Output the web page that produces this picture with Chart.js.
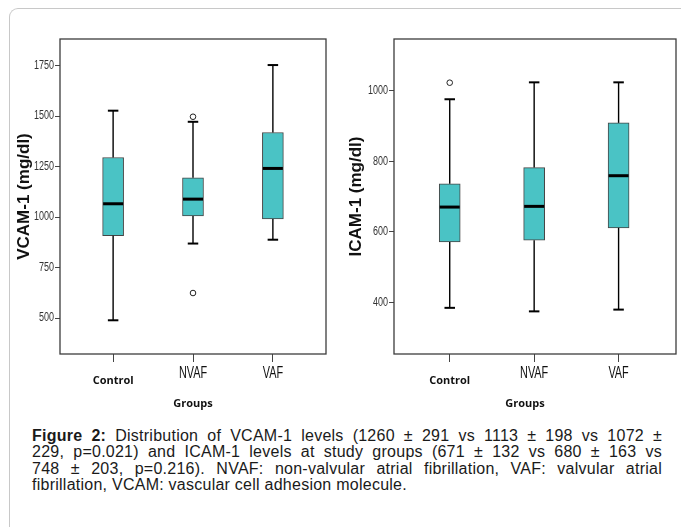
<!DOCTYPE html>
<html>
<head>
<meta charset="utf-8">
<script src="https://cdn.jsdelivr.net/npm/chart.js@4.4.1/dist/chart.umd.min.js"></script>
<style>
  html, body { margin: 0; padding: 0; background: #fff; }
  body { width: 681px; height: 527px; position: relative; overflow: hidden; }
  #frame { position: absolute; left: 9px; top: 8px; width: 800px; height: 700px;
           border-left: 1.5px solid #c8c8c8; border-top: 1.5px solid #c8c8c8; border-top-left-radius: 9px; }
  canvas { position: absolute; top: 0; }
  #vcam { left: 0; }
  #icam { left: 340px; }
  .cap { position: absolute; left: 32px; font: 16px 'Liberation Sans', Arial, sans-serif; letter-spacing: 0.25px;
         line-height: 17px; white-space: nowrap; color: #1a1a1a; }
</style>
</head>
<body>
<div id="frame"></div>
<canvas id="vcam" width="340" height="420"></canvas>
<canvas id="icam" width="341" height="420"></canvas>
<div class="cap justify" style="top:426.5px"><b>Figure 2:</b> Distribution of VCAM-1 levels (1260 ± 291 vs 1113 ± 198 vs 1072 ±</div>
<div class="cap justify" style="top:443px">229, p=0.021) and ICAM-1 levels at study groups (671 ± 132 vs 680 ± 163 vs</div>
<div class="cap justify" style="top:459.5px">748 ± 203, p=0.216). NVAF: non-valvular atrial fibrillation, VAF: valvular atrial</div>
<div class="cap" style="top:476px">fibrillation, VCAM: vascular cell adhesion molecule.</div>

<script>
// groups
const categories = ["Control", "NVAF", "VAF"];

// VCAM-1 box plot values (mg/dl)
const vcamMin = [489, 869, 888];
const vcamQ1 = [908, 1006, 991];
const vcamMedian = [1066, 1089, 1241];
const vcamQ3 = [1295, 1195, 1419];
const vcamMax = [1527, 1472, 1753];
const vcamOutliers = [{ x: 1, y: 1497 }, { x: 1, y: 624 }];
const vcamTicks = [500, 750, 1000, 1250, 1500, 1750];

// ICAM-1 box plot values (mg/dl)
const icamMin = [384, 374, 379];
const icamQ1 = [571, 576, 611];
const icamMedian = [670, 672, 759];
const icamQ3 = [736, 782, 909];
const icamMax = [976, 1024, 1024];
const icamOutliers = [{ x: 0, y: 1023 }];
const icamTicks = [400, 600, 800, 1000];

const sans = "'Liberation Sans', Arial, sans-serif";
const spssBold = { family: "'Open Sans', 'DejaVu Sans', sans-serif", weight: "bold", size: 11 };

// SPSS draws its axis numbers in a narrow face; squeeze the regular tick labels
const narrowTicks = {
  id: "narrowTicks",
  beforeDraw(chart, args, opts) {
    const ctx = chart.ctx;
    Object.keys(opts).forEach(id => {
      const sc = chart.scales[id];
      sc.getLabelItems(chart.chartArea).forEach(it => {
        if (it.font.weight === "bold") return;
        ctx.save();
        ctx.font = it.font.string;
        it.options.maxWidth = ctx.measureText(it.label).width * opts[id];
        ctx.restore();
      });
    });
  }
};

// whiskers, caps and medians drawn with the chart scales
const boxLines = {
  id: "boxLines",
  afterDatasetsDraw(chart, args, opts) {
    const { ctx, scales: { x, y } } = chart;
    const s = opts.stats;
    const bars = chart.getDatasetMeta(0).data;
    ctx.save();
    ctx.strokeStyle = "#000";
    const seg = (x1, y1, x2, y2, w) => {
      ctx.lineWidth = w;
      ctx.beginPath(); ctx.moveTo(x1, y1); ctx.lineTo(x2, y2); ctx.stroke();
    };
    categories.forEach((c, i) => {
      const cx = x.getPixelForValue(i);
      const half = bars[i].width / 2;
      const yMax = y.getPixelForValue(s.max[i]);
      const yMin = y.getPixelForValue(s.min[i]);
      seg(cx, y.getPixelForValue(s.q3[i]), cx, yMax, 1.4);
      seg(cx, y.getPixelForValue(s.q1[i]), cx, yMin, 1.4);
      seg(cx - half / 2, yMax, cx + half / 2, yMax, 2);
      seg(cx - half / 2, yMin, cx + half / 2, yMin, 2);
      const yMed = y.getPixelForValue(s.median[i]);
      seg(cx - half + 0.5, yMed, cx + half - 0.5, yMed, 3);
    });
    ctx.restore();
  }
};

// box round the plot area
const plotFrame = {
  id: "plotFrame",
  afterDraw(chart) {
    const { ctx, chartArea: a } = chart;
    ctx.save();
    ctx.strokeStyle = "#3c3c3c";
    ctx.lineWidth = 1.3;
    ctx.strokeRect(a.left, a.top, a.right - a.left, a.bottom - a.top);
    ctx.restore();
  }
};

function boxChart(id, stats, yTitle, yTicks, xTitle, layout) {
  return new Chart(document.getElementById(id), {
    type: "bar",
    data: {
      datasets: [
        {
          data: categories.map((c, i) => ({ x: i, y: [stats.q1[i], stats.q3[i]] })),
          backgroundColor: "#4ac3c5",
          borderColor: "#454545",
          borderWidth: 1,
          borderSkipped: false,
          barThickness: 21,
          grouped: false
        },
        {
          type: "scatter",
          data: stats.outliers,
          pointStyle: "circle",
          radius: 2.8,
          borderWidth: 1,
          borderColor: "#222",
          backgroundColor: "rgba(0,0,0,0)"
        }
      ]
    },
    options: {
      responsive: false,
      animation: false,
      devicePixelRatio: 1,
      layout: { padding: layout.padding },
      plugins: {
        legend: { display: false },
        tooltip: { enabled: false },
        boxLines: { stats: stats },
        narrowTicks: { x: 0.68, y: 0.75 }
      },
      scales: {
        x: {
          type: "linear",
          min: layout.xMin,
          max: layout.xMax,
          offset: false,
          afterBuildTicks: sc => { sc.ticks = categories.map((c, i) => ({ value: i })); },
          afterFit: sc => { sc.height = 56; },
          grid: { drawOnChartArea: false, tickLength: 8, tickColor: "#444", offset: false },
          border: { display: false },
          ticks: {
            padding: 3,
            color: "#111",
            autoSkip: false,
            maxRotation: 0,
            callback: v => categories[v],
            font: ctx => ctx.index === 0
              ? Object.assign({}, spssBold, { lineHeight: 2.9 })
              : { family: sans, size: 16, lineHeight: 1.05 }
          },
          title: { display: true, text: xTitle, color: "#111", padding: 0, font: spssBold }
        },
        y: {
          min: layout.yMin,
          max: layout.yMax,
          afterBuildTicks: sc => { sc.ticks = yTicks.map(v => ({ value: v })); },
          afterFit: sc => { sc.width = layout.yWidth; },
          grid: { drawOnChartArea: false, tickLength: 5, tickColor: "#444" },
          border: { display: false },
          ticks: { padding: 1, color: "#333", callback: v => String(v), font: { family: sans, size: 12 } },
          title: {
            display: true,
            text: yTitle,
            color: "#111",
            padding: 0,
            font: { family: sans, weight: "bold", size: 17 }
          }
        }
      }
    },
    plugins: [narrowTicks, boxLines, plotFrame]
  });
}

boxChart("vcam",
  { min: vcamMin, q1: vcamQ1, median: vcamMedian, q3: vcamQ3, max: vcamMax, outliers: vcamOutliers },
  "VCAM-1 (mg/dl)", vcamTicks, "Groups",
  { padding: { left: 14.5, top: 39, right: 14, bottom: 10 }, yWidth: 45.5, xMin: -0.665, xMax: 2.665, yMin: 322, yMax: 1882 });

boxChart("icam",
  { min: icamMin, q1: icamQ1, median: icamMedian, q3: icamQ3, max: icamMax, outliers: icamOutliers },
  "ICAM-1 (mg/dl)", icamTicks, "Groups       ",
  { padding: { left: 6, top: 39, right: 4, bottom: 10 }, yWidth: 48, xMin: -0.66, xMax: 2.68, yMin: 253, yMax: 1147 });

// justify the caption lines to the same right edge
document.querySelectorAll(".cap.justify").forEach(el => {
  const gaps = (el.textContent.match(/ /g) || []).length;
  const extra = 630 - el.getBoundingClientRect().width;
  el.style.wordSpacing = (extra / gaps) + "px";
});
</script>
</body>
</html>
